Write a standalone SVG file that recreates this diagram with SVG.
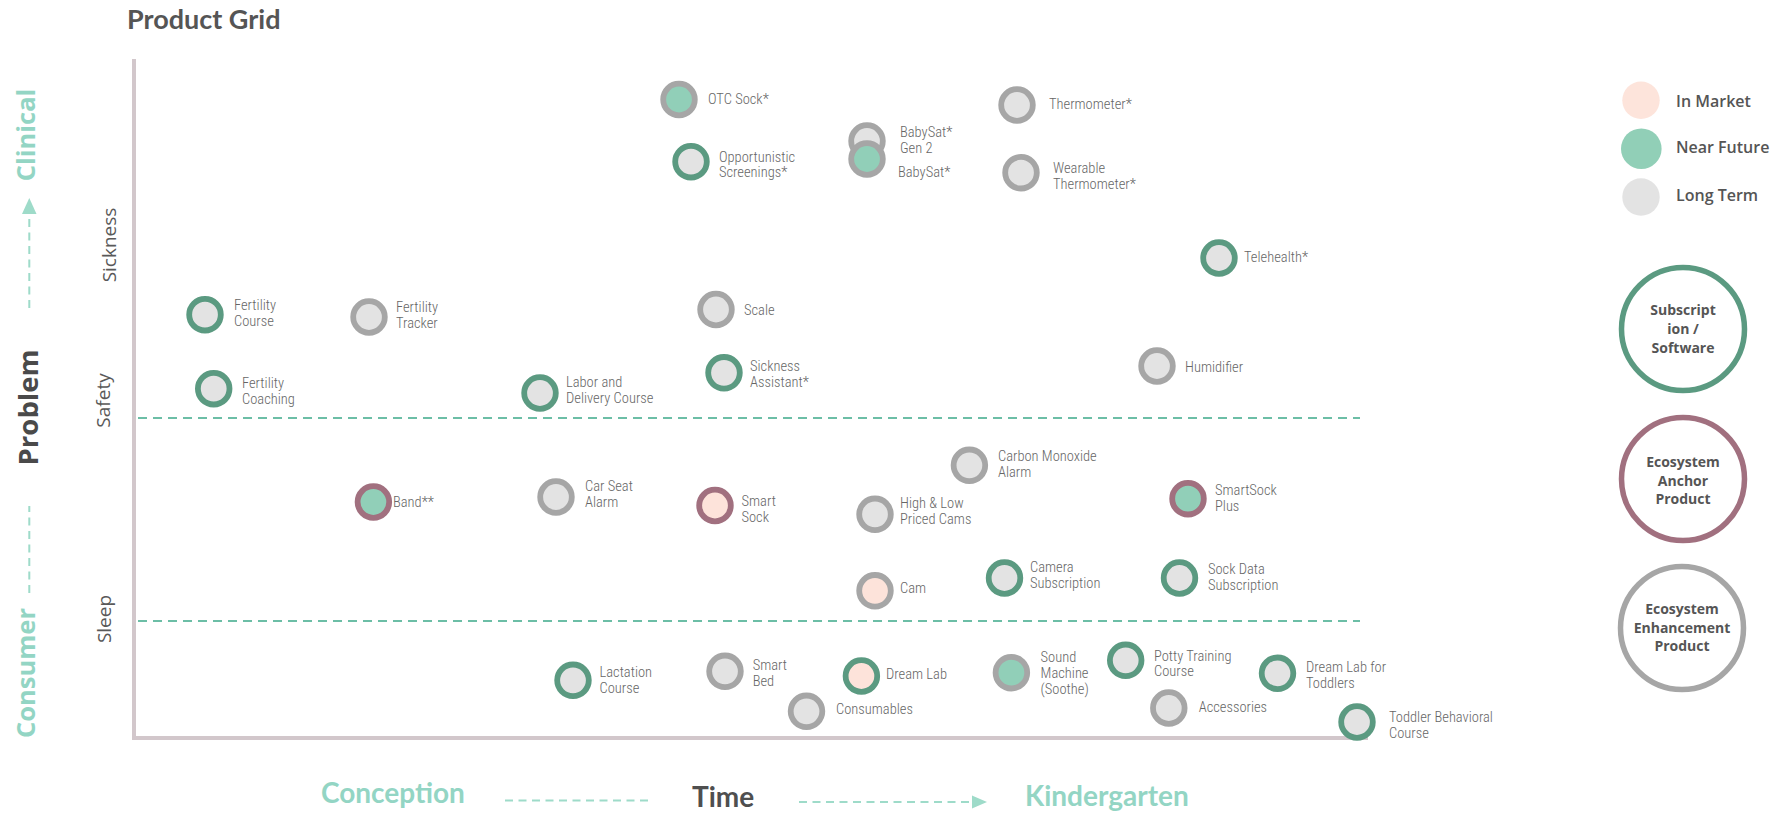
<svg xmlns="http://www.w3.org/2000/svg" width="1790" height="813" viewBox="0 0 1790 813">
<style>
.bg{fill:#ffffff}
.node circle{stroke-width:5.8}
.rg{stroke:#5b9a81}.ry{stroke:#a6a6a6}.rm{stroke:#a1707f}
.fg{fill:#e3e3e3}.fn{fill:#91cfb8}.fp{fill:#fde3da}
.lbl{font-family:"Liberation Sans Narrow","Roboto Condensed","Liberation Sans",sans-serif;font-size:14.5px;font-weight:300;fill:#666666}
.axis{stroke:#d2c7cb;stroke-width:4;fill:none}
.band{stroke:#6cbea6;stroke-width:2;stroke-dasharray:9 6;fill:none}
.ind{stroke:#9edbc9;stroke-width:2;stroke-dasharray:8 5.5;fill:none}
.arrowhead{fill:#9edbc9}
.big{font-family:"Open Sans","Liberation Sans",sans-serif;font-weight:700}
.teal{fill:#93d5c4}
.dark{fill:#4a4a4a}
.cat{font-family:"Open Sans","Liberation Sans",sans-serif;font-size:19px;fill:#595959}
.bot{font-family:Lato,"Liberation Sans",sans-serif;font-weight:700;font-size:28px}
.leg{font-family:"Open Sans","Liberation Sans",sans-serif;font-weight:600;font-size:16px;fill:#555}
.legc{font-family:"Open Sans","Liberation Sans",sans-serif;font-weight:700;font-size:14px;fill:#555;text-anchor:middle}
</style>
<rect class="bg" x="0" y="0" width="1790" height="813"/>

<text x="127" y="29" style="font-family:Lato,'Liberation Sans',sans-serif;font-weight:700;font-size:27px;fill:#555">Product Grid</text>

<g id="axes">
<path class="axis" d="M134 59 V738 H1368"/>
<path class="band" d="M138 418 H1360"/>
<path class="band" d="M138 621 H1360"/>
</g>

<g id="connectors">
<path class="ind" d="M29.3 308 V213"/>
<path class="arrowhead" d="M29.3 198 L36.5 214 L22 214 Z"/>
<path class="ind" d="M29.3 593 V506"/>
<path class="ind" d="M505 800.5 H652"/>
<path class="ind" d="M799 802 H972"/>
<path class="arrowhead" d="M987 802 L972 795.5 L972 808.5 Z"/>
</g>

<g id="axis-labels">
<text class="big teal" transform="translate(35,135) rotate(-90)" text-anchor="middle" font-size="25.5">Clinical</text>
<text class="big dark" transform="translate(37.5,407.5) rotate(-90)" text-anchor="middle" font-size="27.5">Problem</text>
<text class="big teal" transform="translate(35,673) rotate(-90)" text-anchor="middle" font-size="25.5">Consumer</text>
<text class="cat" transform="translate(116,245) rotate(-90)" text-anchor="middle">Sickness</text>
<text class="cat" transform="translate(110,400.5) rotate(-90)" text-anchor="middle">Safety</text>
<text class="cat" transform="translate(111,619) rotate(-90)" text-anchor="middle">Sleep</text>
<text class="bot teal" x="321" y="803">Conception</text>
<text class="bot" x="692" y="807" style="fill:#4f4f4f">Time</text>
<text class="bot teal" x="1025" y="806">Kindergarten</text>
</g>

<g id="n-otc-sock" class="node"><circle class="ry fn" cx="679" cy="99.5" r="15.8"/><text class="lbl" x="708" y="104">OTC Sock*</text></g>
<g id="n-opportunistic-screenings" class="node"><circle class="rg fg" cx="691" cy="161.7" r="15.8"/><text class="lbl" x="719" y="161.5">Opportunistic</text><text class="lbl" x="719" y="177">Screenings*</text></g>
<g id="n-babysat-gen2" class="node"><circle class="ry fg" cx="867" cy="141" r="15.8"/><text class="lbl" x="900" y="136.7">BabySat*</text><text class="lbl" x="900" y="152.7">Gen 2</text></g>
<g id="n-babysat" class="node"><circle class="ry fn" cx="867" cy="159" r="15.8"/><text class="lbl" x="898" y="176.7">BabySat*</text></g>
<g id="n-thermometer" class="node"><circle class="ry fg" cx="1017" cy="105" r="15.8"/><text class="lbl" x="1049" y="109">Thermometer*</text></g>
<g id="n-wearable-thermometer" class="node"><circle class="ry fg" cx="1021" cy="172.7" r="15.8"/><text class="lbl" x="1053" y="173.3">Wearable</text><text class="lbl" x="1053" y="189.3">Thermometer*</text></g>
<g id="n-telehealth" class="node"><circle class="rg fg" cx="1219" cy="258" r="15.8"/><text class="lbl" x="1244" y="262">Telehealth*</text></g>
<g id="n-fertility-course" class="node"><circle class="rg fg" cx="205" cy="314.7" r="15.8"/><text class="lbl" x="234" y="310">Fertility</text><text class="lbl" x="234" y="326">Course</text></g>
<g id="n-fertility-tracker" class="node"><circle class="ry fg" cx="369" cy="317" r="15.8"/><text class="lbl" x="396" y="312">Fertility</text><text class="lbl" x="396" y="328">Tracker</text></g>
<g id="n-scale" class="node"><circle class="ry fg" cx="716" cy="309.5" r="15.8"/><text class="lbl" x="744" y="315">Scale</text></g>
<g id="n-fertility-coaching" class="node"><circle class="rg fg" cx="213.7" cy="388.7" r="15.8"/><text class="lbl" x="242" y="388">Fertility</text><text class="lbl" x="242" y="404">Coaching</text></g>
<g id="n-labor-delivery" class="node"><circle class="rg fg" cx="540" cy="393" r="15.8"/><text class="lbl" x="566" y="387">Labor and</text><text class="lbl" x="566" y="403">Delivery Course</text></g>
<g id="n-sickness-assistant" class="node"><circle class="rg fg" cx="724" cy="372.8" r="15.8"/><text class="lbl" x="750" y="371">Sickness</text><text class="lbl" x="750" y="387">Assistant*</text></g>
<g id="n-humidifier" class="node"><circle class="ry fg" cx="1157" cy="366" r="15.8"/><text class="lbl" x="1185" y="372">Humidifier</text></g>
<g id="n-carbon-monoxide" class="node"><circle class="ry fg" cx="969.4" cy="465.3" r="15.8"/><text class="lbl" x="998" y="461">Carbon Monoxide</text><text class="lbl" x="998" y="476.7">Alarm</text></g>
<g id="n-band" class="node"><circle class="rm fn" cx="373.4" cy="502" r="15.8"/><text class="lbl" x="393" y="506.7">Band**</text></g>
<g id="n-car-seat-alarm" class="node"><circle class="ry fg" cx="556" cy="497" r="15.8"/><text class="lbl" x="585" y="491">Car Seat</text><text class="lbl" x="585" y="506.7">Alarm</text></g>
<g id="n-smart-sock" class="node"><circle class="rm fp" cx="715" cy="505.5" r="15.8"/><text class="lbl" x="741.5" y="506">Smart</text><text class="lbl" x="741.5" y="521.7">Sock</text></g>
<g id="n-high-low-cams" class="node"><circle class="ry fg" cx="875" cy="514.3" r="15.8"/><text class="lbl" x="900" y="508">High &amp; Low</text><text class="lbl" x="900" y="524">Priced Cams</text></g>
<g id="n-smartsock-plus" class="node"><circle class="rm fn" cx="1188" cy="498.7" r="15.8"/><text class="lbl" x="1215" y="495">SmartSock</text><text class="lbl" x="1215" y="511">Plus</text></g>
<g id="n-cam" class="node"><circle class="ry fp" cx="875" cy="590.8" r="15.8"/><text class="lbl" x="900" y="593">Cam</text></g>
<g id="n-camera-subscription" class="node"><circle class="rg fg" cx="1004.5" cy="578" r="15.8"/><text class="lbl" x="1030" y="572.3">Camera</text><text class="lbl" x="1030" y="588.3">Subscription</text></g>
<g id="n-sock-data-subscription" class="node"><circle class="rg fg" cx="1179.5" cy="578" r="15.8"/><text class="lbl" x="1208" y="574">Sock Data</text><text class="lbl" x="1208" y="590">Subscription</text></g>
<g id="n-lactation-course" class="node"><circle class="rg fg" cx="573" cy="680.3" r="15.8"/><text class="lbl" x="599.5" y="676.7">Lactation</text><text class="lbl" x="599.5" y="692.7">Course</text></g>
<g id="n-smart-bed" class="node"><circle class="ry fg" cx="725" cy="671.3" r="15.8"/><text class="lbl" x="752.7" y="670">Smart</text><text class="lbl" x="752.7" y="686">Bed</text></g>
<g id="n-consumables" class="node"><circle class="ry fg" cx="806.5" cy="711.3" r="15.8"/><text class="lbl" x="836" y="714.3">Consumables</text></g>
<g id="n-dream-lab" class="node"><circle class="rg fp" cx="861.4" cy="676" r="15.8"/><text class="lbl" x="886" y="679">Dream Lab</text></g>
<g id="n-sound-machine" class="node"><circle class="ry fn" cx="1011.4" cy="672.7" r="15.8"/><text class="lbl" x="1040.6" y="662.3">Sound</text><text class="lbl" x="1040.6" y="677.7">Machine</text><text class="lbl" x="1040.6" y="694">(Soothe)</text></g>
<g id="n-potty-training" class="node"><circle class="rg fg" cx="1125.7" cy="660.3" r="15.8"/><text class="lbl" x="1154" y="660.7">Potty Training</text><text class="lbl" x="1154" y="676">Course</text></g>
<g id="n-dream-lab-toddlers" class="node"><circle class="rg fg" cx="1277.5" cy="673.3" r="15.8"/><text class="lbl" x="1306" y="672.3">Dream Lab for</text><text class="lbl" x="1306" y="687.7">Toddlers</text></g>
<g id="n-accessories" class="node"><circle class="ry fg" cx="1168.8" cy="708" r="15.8"/><text class="lbl" x="1198.7" y="712.3">Accessories</text></g>
<g id="n-toddler-behavioral" class="node"><circle class="rg fg" cx="1357" cy="722" r="15.8"/><text class="lbl" x="1389" y="722.3">Toddler Behavioral</text><text class="lbl" x="1389" y="737.7">Course</text></g>

<g id="legend-status">
<circle cx="1641" cy="100.3" r="18.7" fill="#fde4db"/><text class="leg" x="1676" y="106.7">In Market</text>
<circle cx="1641.3" cy="148.7" r="20.3" fill="#91cfb7"/><text class="leg" x="1676" y="153.3">Near Future</text>
<circle cx="1641" cy="197" r="18.7" fill="#e3e3e3"/><text class="leg" x="1676" y="200.5">Long Term</text>
</g>

<g id="legend-subscription"><circle cx="1683" cy="329" r="61.5" fill="#fff" stroke="#5b9a81" stroke-width="5.5"/><text class="legc" x="1683" y="315">Subscript</text><text class="legc" x="1683" y="334">ion /</text><text class="legc" x="1683" y="353">Software</text></g>
<g id="legend-anchor"><circle cx="1683" cy="479" r="61.5" fill="#fff" stroke="#a1707f" stroke-width="5.5"/><text class="legc" x="1683" y="467">Ecosystem</text><text class="legc" x="1683" y="485.5">Anchor</text><text class="legc" x="1683" y="504">Product</text></g>
<g id="legend-enhancement"><circle cx="1682" cy="628" r="61.5" fill="#fff" stroke="#a6a6a6" stroke-width="5.5"/><text class="legc" x="1682" y="614">Ecosystem</text><text class="legc" x="1682" y="632.5">Enhancement</text><text class="legc" x="1682" y="651">Product</text></g>
</svg>
